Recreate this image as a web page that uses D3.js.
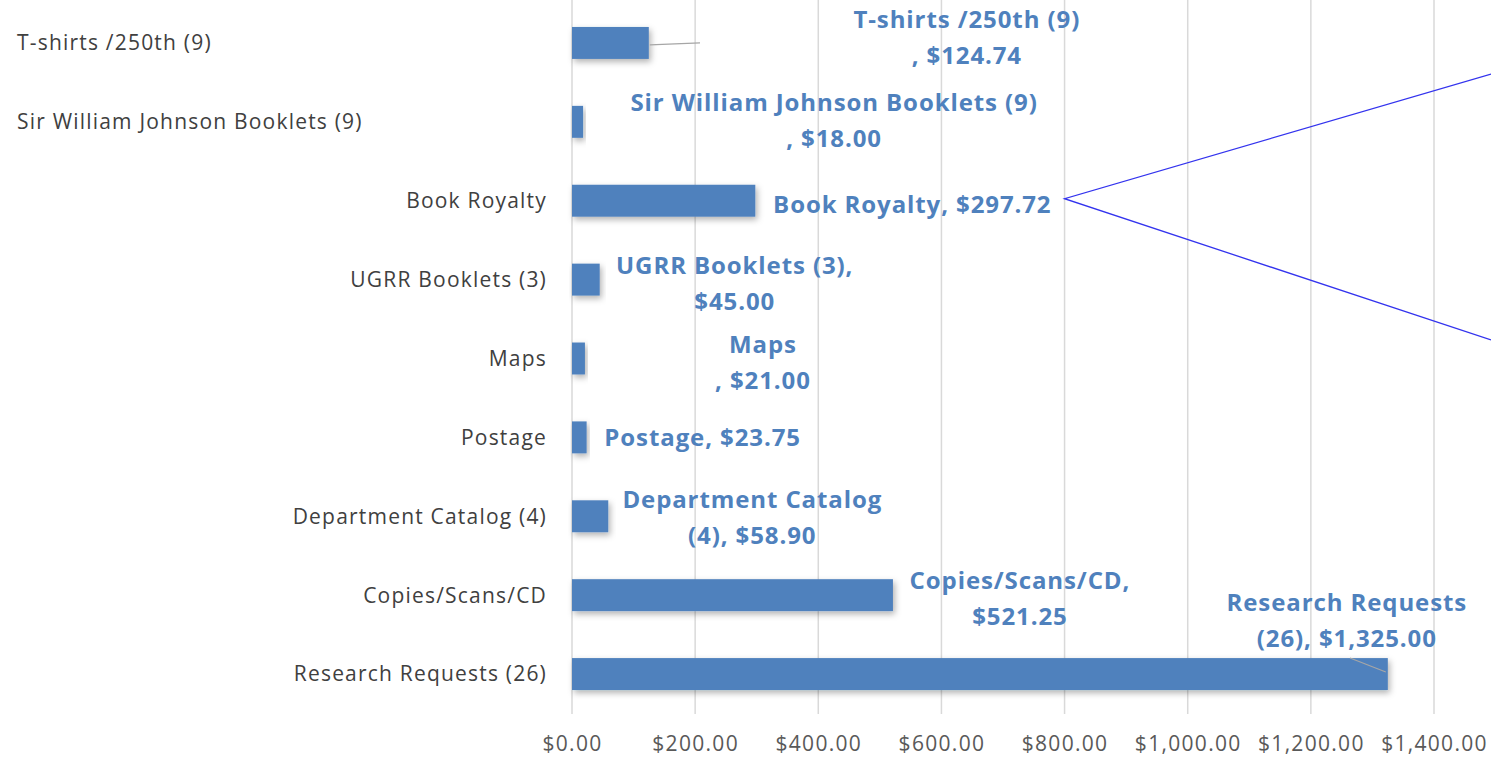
<!DOCTYPE html>
<html>
<head>
<meta charset="utf-8">
<script src="https://cdn.jsdelivr.net/npm/d3@7/dist/d3.min.js"></script>
<style>
  body { margin: 0; background: #fff; }
  svg { display: block; }
  text { font-family: "Open Sans", Lato, sans-serif; }
</style>
</head>
<body>
<div id="chart"></div>
<script>
// categories, top to bottom as drawn
var categories = [
  "T-shirts /250th (9)",
  "Sir William Johnson Booklets (9)",
  "Book Royalty",
  "UGRR Booklets (3)",
  "Maps",
  "Postage",
  "Department Catalog (4)",
  "Copies/Scans/CD",
  "Research Requests (26)"
];
var amounts = [124.74, 18.00, 297.72, 45.00, 21.00, 23.75, 58.90, 521.25, 1325.00];

// data label text, one array of lines per bar
var labelLines = [
  ["T-shirts /250th (9)", ", $124.74"],
  ["Sir William Johnson Booklets (9)", ", $18.00"],
  ["Book Royalty, $297.72"],
  ["UGRR Booklets (3),", "$45.00"],
  ["Maps", ", $21.00"],
  ["Postage, $23.75"],
  ["Department Catalog", "(4), $58.90"],
  ["Copies/Scans/CD,", "$521.25"],
  ["Research Requests", "(26), $1,325.00"]
];
var tickValues = [0, 200, 400, 600, 800, 1000, 1200, 1400];

// label placement (offset of label centre from bar end / band centre)
var labelOffset = [
  {dx: 318, dy: -5}, {dx: 251, dy: -1}, {dx: 157, dy: 4}, {dx: 135, dy: 4},
  {dx: 178, dy: 4}, {dx: 116, dy: 0}, {dx: 144, dy: 1}, {dx: 127, dy: 3},
  {dx: -41, dy: -53}
];
var leftAligned = ["T-shirts /250th (9)", "Sir William Johnson Booklets (9)"];

var W = 1491, H = 760;
var blue = "#4F81BD";

var svg = d3.select("#chart").append("svg")
  .attr("width", W).attr("height", H);

var defs = svg.append("defs");
var f = defs.append("filter").attr("id", "shadow")
  .attr("x", "-10%").attr("y", "-30%").attr("width", "130%").attr("height", "190%");
f.append("feDropShadow").attr("dx", 2).attr("dy", 3).attr("stdDeviation", 3)
  .attr("flood-color", "#000").attr("flood-opacity", 0.3);

var x = d3.scaleLinear().domain([0, 1400]).range([572, 1434]);
var y = d3.scaleBand().domain(categories).range([3.5, 713.5])
  .paddingInner(0.595).paddingOuter(0.2975);

// gridlines
svg.append("g")
  .selectAll("line")
  .data(tickValues)
  .enter().append("line")
  .attr("x1", function(d){ return x(d); })
  .attr("x2", function(d){ return x(d); })
  .attr("y1", 0).attr("y2", 714)
  .attr("stroke", "#d9d9d9").attr("stroke-width", 1.5);

// x axis labels
var xAxis = d3.axisBottom(x).tickValues(tickValues).tickSize(0)
  .tickFormat(function(d){ return "$" + d3.format(",.2f")(d); });
var ax = svg.append("g").attr("transform", "translate(0,733)").call(xAxis);
ax.select(".domain").remove();
ax.selectAll("text").attr("fill", "#595959").attr("font-size", 21)
  .attr("font-family", "'Open Sans', sans-serif")
  .attr("letter-spacing", 1.3)
  .attr("dy", "0.71em");

// category labels
svg.append("g")
  .selectAll("text")
  .data(categories)
  .enter().append("text")
  .attr("x", function(d){ return leftAligned.indexOf(d) >= 0 ? 17 : 547; })
  .attr("y", function(d){ return y(d) + y.bandwidth() / 2; })
  .attr("dy", "0.35em")
  .attr("text-anchor", function(d){ return leftAligned.indexOf(d) >= 0 ? "start" : "end"; })
  .attr("font-size", 21)
  .attr("letter-spacing", 1.2)
  .attr("fill", "#404040")
  .text(function(d){ return d; });

// bars
svg.append("g")
  .selectAll("rect")
  .data(amounts)
  .enter().append("rect")
  .attr("x", x(0))
  .attr("y", function(d, i){ return y(categories[i]); })
  .attr("width", function(d){ return x(d) - x(0); })
  .attr("height", y.bandwidth())
  .attr("fill", blue)
  .attr("filter", "url(#shadow)");

// leader lines
svg.append("line")
  .attr("x1", x(amounts[0]) + 1).attr("y1", y(categories[0]) + y.bandwidth() / 2 + 2)
  .attr("x2", 700).attr("y2", y(categories[0]) + y.bandwidth() / 2)
  .attr("stroke", "#a6a6a6").attr("stroke-width", 1.2);
svg.append("line")
  .attr("x1", 1350).attr("y1", 658)
  .attr("x2", x(amounts[8]) - 2).attr("y2", y(categories[8]) + y.bandwidth() / 2 - 2)
  .attr("stroke", "#a6a6a6").attr("stroke-width", 1.2);

// data labels
var lbl = svg.append("g")
  .selectAll("text")
  .data(amounts)
  .enter().append("text")
  .attr("text-anchor", "middle")
  .attr("font-size", 24)
  .attr("letter-spacing", 0.9)
  .attr("font-weight", "bold")
  .attr("fill", blue)
  .attr("transform", function(d, i){
    var n = labelLines[i].length;
    var cy = y(categories[i]) + y.bandwidth() / 2 + labelOffset[i].dy - (n - 1) * 18;
    return "translate(" + (x(d) + labelOffset[i].dx) + "," + cy + ")";
  });
lbl.selectAll("tspan")
  .data(function(d, i){ return labelLines[i]; })
  .enter().append("tspan")
  .attr("x", 0)
  .attr("y", function(d, j){ return j * 36; })
  .attr("dy", "0.35em")
  .text(function(d){ return d; });

// callout shape drawn over the chart
var vx = x(800), vy = y("Book Royalty") + y.bandwidth() / 2 - 2;
svg.append("path")
  .attr("d", "M" + W + ",74L" + vx + "," + vy + "L" + W + ",340")
  .attr("fill", "none").attr("stroke", "#3333ee").attr("stroke-width", 1.3);
</script>
</body>
</html>
